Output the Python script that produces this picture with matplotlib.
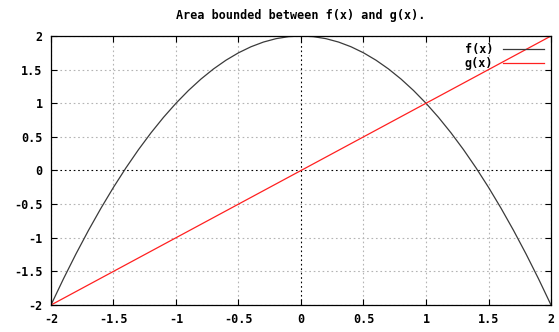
import matplotlib
matplotlib.use("Agg")
import matplotlib.pyplot as plt

x_vals = [-2.0, -1.9, -1.8, -1.7, -1.6, -1.5, -1.4, -1.3, -1.2, -1.1, -1.0,
          -0.9, -0.8, -0.7, -0.6, -0.5, -0.4, -0.3, -0.2, -0.1, 0.0,
          0.1, 0.2, 0.3, 0.4, 0.5, 0.6, 0.7, 0.8, 0.9, 1.0,
          1.1, 1.2, 1.3, 1.4, 1.5, 1.6, 1.7, 1.8, 1.9, 2.0]
f_vals = [-2.0, -1.61, -1.24, -0.89, -0.56, -0.25, 0.04, 0.31, 0.56, 0.79, 1.0,
          1.19, 1.36, 1.51, 1.64, 1.75, 1.84, 1.91, 1.96, 1.99, 2.0,
          1.99, 1.96, 1.91, 1.84, 1.75, 1.64, 1.51, 1.36, 1.19, 1.0,
          0.79, 0.56, 0.31, 0.04, -0.25, -0.56, -0.89, -1.24, -1.61, -2.0]
g_x = [-2.0, 2.0]
g_vals = [-2.0, 2.0]
x_ticks = [-2, -1.5, -1, -0.5, 0, 0.5, 1, 1.5, 2]
y_ticks = [-2, -1.5, -1, -0.5, 0, 0.5, 1, 1.5, 2]
tick_labels = ["-2", "-1.5", "-1", "-0.5", "0", "0.5", "1", "1.5", "2"]
title = "Area bounded between f(x) and g(x)."

font = {"family": "DejaVu Sans Mono", "weight": "bold", "size": 8.5}

fig = plt.figure(figsize=(5.59, 3.32), dpi=100)
ax = fig.add_axes([0.0912, 0.0813, 0.8945, 0.8103])

for t in x_ticks:
    if t == 0:
        continue
    ax.axvline(t, color="#b4b4b4", lw=0.8, ls=(0, (1.5, 2.5)), zorder=0)
for t in y_ticks:
    if t == 0:
        continue
    ax.axhline(t, color="#b4b4b4", lw=0.8, ls=(0, (1.5, 2.5)), zorder=0)
ax.axvline(0, color="black", lw=0.8, ls=(0, (1.5, 2.5)), zorder=0)
ax.axhline(0, color="black", lw=0.8, ls=(0, (1.5, 2.5)), zorder=0)

ax.plot(x_vals, f_vals, color="#3a3a3a", lw=0.9, label="f(x)")
ax.plot(g_x, g_vals, color="#ff2020", lw=0.9, label="g(x)")

ax.set_xlim(-2, 2)
ax.set_ylim(-2, 2)
ax.set_xticks(x_ticks)
ax.set_yticks(y_ticks)
ax.set_xticklabels(tick_labels, fontdict=font)
ax.set_yticklabels(tick_labels, fontdict=font)
ax.tick_params(direction="in", length=4, width=0.8, top=True, right=True, pad=6)
for s in ax.spines.values():
    s.set_linewidth(0.9)

ax.set_title(title, fontdict=dict(font, size=8.5), pad=12)

leg = ax.legend(loc="upper right", frameon=False, prop={"family": "DejaVu Sans Mono", "weight": "bold", "size": 8.5},
                markerfirst=False, handlelength=3.5, borderaxespad=0.2, labelspacing=0.1, handletextpad=0.8)

fig.savefig("out.png", dpi=100)
